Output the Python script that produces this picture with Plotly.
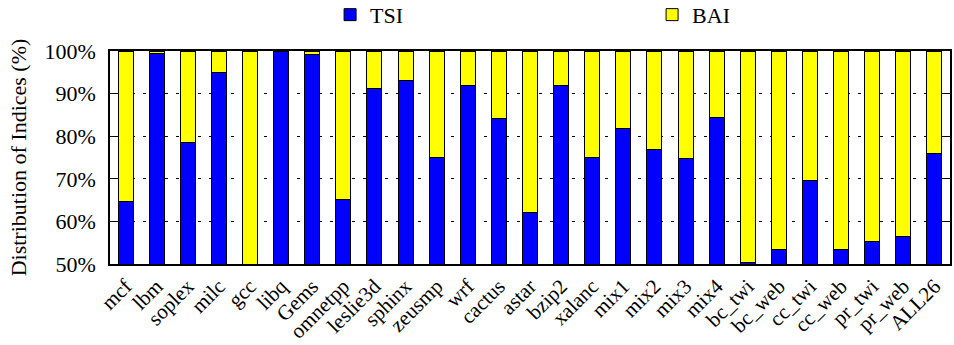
import plotly.graph_objects as go

categories = ["mcf", "lbm", "soplex", "milc", "gcc", "libq", "Gems", "omnetpp",
              "leslie3d", "sphinx", "zeusmp", "wrf", "cactus", "astar", "bzip2",
              "xalanc", "mix1", "mix2", "mix3", "mix4", "bc_twi", "bc_web",
              "cc_twi", "cc_web", "pr_twi", "pr_web", "ALL26"]
tsi = [64.6, 99.4, 78.5, 95.0, 0.0, 100.0, 99.2, 65.2, 91.2, 93.1, 75.1, 91.9,
       84.1, 62.1, 92.0, 75.1, 81.8, 76.9, 74.8, 84.5, 50.3, 53.5, 69.6, 53.5,
       55.2, 56.5, 75.9]
bai = [round(100 - v, 1) for v in tsi]
y_ticks = [50, 60, 70, 80, 90, 100]
y_tick_labels = ["50%", "60%", "70%", "80%", "90%", "100%"]

FONT = "Liberation Serif"

fig = go.Figure()
fig.add_trace(go.Bar(x=categories, y=tsi, name="TSI",
                     marker=dict(color="#0000ff", line=dict(color="black", width=1))))
fig.add_trace(go.Bar(x=categories, y=bai, name="BAI",
                     marker=dict(color="#ffff00", line=dict(color="black", width=1))))

fig.update_layout(
    barmode="stack",
    bargap=0.52,
    width=954, height=345,
    margin=dict(l=110, r=4, t=51, b=81, autoexpand=False),
    plot_bgcolor="white", paper_bgcolor="white",
    font=dict(family=FONT, size=22, color="black"),
    showlegend=True,
    legend=dict(orientation="h", traceorder="normal",
                xref="container", yref="container",
                x=0.346, y=0.957, xanchor="left", yanchor="middle",
                entrywidth=277, entrywidthmode="pixels",
                font=dict(family=FONT, size=22), bgcolor="rgba(0,0,0,0)"),
)
fig.update_xaxes(showline=True, linecolor="black", linewidth=1.5, mirror=True,
                 tickangle=-45, ticks="", tickfont=dict(family=FONT, size=21),
                 showgrid=False, automargin=False)
fig.update_yaxes(range=[50, 100], tickvals=y_ticks, ticktext=y_tick_labels,
                 showline=True, linecolor="black", linewidth=1.5, mirror="allticks",
                 ticks="inside", ticklen=8, tickcolor="black", ticklabelstandoff=8,
                 showgrid=True, gridcolor="black", gridwidth=1, griddash="3px,8px",
                 tickfont=dict(family=FONT, size=22), automargin=False,
                 title=dict(text="Distribution of Indices (%)", font=dict(family=FONT, size=22),
                            standoff=12))

fig.write_html("out.html", config={"displayModeBar": False},
               post_script="document.body.style.margin='0';")
